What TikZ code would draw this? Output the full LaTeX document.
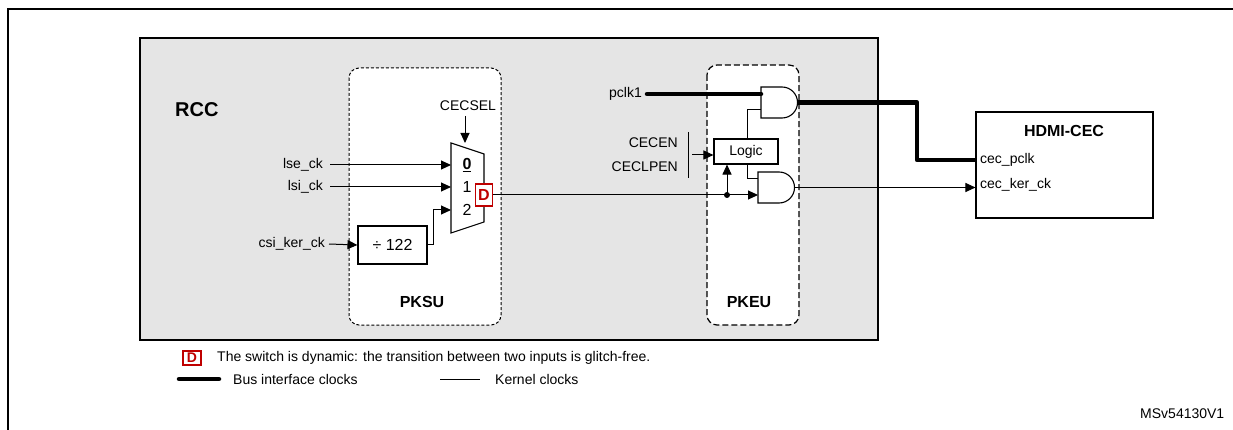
\documentclass[tikz,border=0pt]{standalone}
\usepackage{fontspec}
\setmainfont{Liberation Sans}
\usetikzlibrary{arrows.meta}
\begin{document}
\begin{tikzpicture}[x=1pt,y=-1pt,
  txt/.style={inner sep=0pt,font=\fontsize{14}{16}\selectfont},
  big/.style={inner sep=0pt,font=\fontsize{16}{18}\selectfont},
  bold/.style={txt,font=\fontsize{16}{18}\selectfont\bfseries},
  kern/.style={line width=1pt},
  bus/.style={line width=4.5pt},
  arr/.style={kern,-{Triangle[length=10pt,width=9pt]}},
  blk/.style={draw,line width=1.1pt,fill=white,inner sep=0pt,font=\fontsize{14}{16}\selectfont},
  dbox/.style={draw=red!75!black,line width=1.2pt,fill=white,text=red!75!black,inner sep=0pt,minimum width=17pt,minimum height=22pt,font=\fontsize{16}{18}\selectfont\bfseries},
  gate/.style={line width=1.1pt,fill=white}]
\useasboundingbox (0,0) rectangle (1233,430);
% outer frame
\draw[line width=1.6pt] (8,430) -- (8,9) -- (1233,9);
% RCC box
\draw[line width=1.6pt,fill=gray!20] (140,38) rectangle (878,340);
\node[bold,font=\fontsize{20}{22}\selectfont\bfseries,anchor=west] (rcc) at (175,110) {RCC};
% PKSU / PKEU
\draw[dash pattern=on 3pt off 2pt,rounded corners=10pt,fill=white,line width=1pt] (349,68) rectangle (501,325);
\node[bold] (pksu) at (422,302) {PKSU};
\draw[dash pattern=on 6pt off 3pt,rounded corners=10pt,fill=white,line width=1.2pt] (707,65) rectangle (799,325);
\node[bold] (pkeu) at (749,302) {PKEU};
% mux
\draw[line width=1.1pt,fill=white] (451,143) -- (484,154) -- (484,222) -- (451,233) -- cycle;
\node[big] (m0) at (467,165) {\underline{\textbf{0}}};
\node[big] (m1) at (467,187) {1};
\node[big] (m2) at (467,210) {2};
\coordinate (i0) at (451,165);
\coordinate (i1) at (451,187);
\coordinate (i2) at (451,210);
\node[txt] (cecsel) at (468,106) {CECSEL};
\coordinate (sel) at (465,143);
\draw[arr] (465,116) -- (sel);
\node[dbox] (d) at (484,195) {D};
% inputs
\node[txt,anchor=east] (lse) at (323,165) {lse\_ck};
\node[txt,anchor=east] (lsi) at (323,187) {lsi\_ck};
\node[txt,anchor=east] (csi) at (325,244) {csi\_ker\_ck};
\node[blk,minimum width=69pt,minimum height=38pt,font=\fontsize{16}{18}\selectfont] (div) at (392.5,245) {÷ 122};
\draw[arr] ([xshift=7pt]lse.east) -- (i0);
\draw[arr] ([xshift=7pt]lsi.east) -- (i1);
\draw[arr] ([xshift=4pt]csi.east) -- (div.west);
\draw[arr] (div.east) -- (433,245) -- (433,210) -- (i2);
% PKEU contents
\node[txt,anchor=east] (pclk) at (642,94) {pclk1};
\node[txt,anchor=east] (cecen) at (678,143) {CECEN};
\node[txt,anchor=east] (ceclpen) at (678,167) {CECLPEN};
\draw[kern] (688,132) -- (688,178);
\node[blk,minimum width=64pt,minimum height=25pt] (logic) at (746,151.5) {Logic};
\draw[arr] (692,155) -- (logic.west |- 0,155);
% AND gates
\draw[gate] (761,87) -- (782,87) arc (-90:90:15.5) -- (761,118) -- cycle;
\coordinate (a1o) at (797.5,102.5);
\draw[gate] (758,172) -- (779,172) arc (-90:90:15.5) -- (758,203) -- cycle;
\coordinate (a2o) at (794.5,187.5);
\draw[bus,line cap=round] (647,94) -- (761,94);
\draw[kern] (logic.north -| 747,0) -- (747,110) -- (761,110);
\draw[kern] (logic.south -| 747,0) -- (747,179) -- (758,179);
\coordinate (dot) at (727,195);
\draw[kern] (d.east |- 0,195) -- (dot);
\draw[arr] (dot) -- (758,195);
\draw[arr] (dot) -- (logic.south -| dot);
\fill (dot) circle (3pt);
% HDMI-CEC
\node[blk,minimum width=177pt,minimum height=106pt] (hdmi) at (1064.5,165) {};
\node[bold] (ht) at (1064,131) {HDMI-CEC};
\node[txt,anchor=west] (pc) at (980,160) {cec\_pclk};
\node[txt,anchor=west] (kc) at (980,185) {cec\_ker\_ck};
\draw[bus,line join=round] (a1o) -- (917,102.5) -- (917,160) -- (hdmi.west |- 0,160);
\draw[arr] (a2o) -- (hdmi.west |- 0,187.5);
% legend
\node[dbox,minimum width=18pt,minimum height=14pt,font=\fontsize{14}{15}\selectfont\bfseries] (ld) at (192,358) {D};
\node[txt,anchor=west] (lt) at (217,358) {The switch is dynamic: the transition between two inputs is glitch-free.};
\coordinate (b1) at (179,379);
\coordinate (b2) at (219,379);
\draw[bus,line cap=round] (b1) -- (b2);
\node[txt,anchor=west] (bt) at (233,379) {Bus interface clocks};
\coordinate (k1) at (440,379);
\coordinate (k2) at (480,379);
\draw[kern] (k1) -- (k2);
\node[txt,anchor=west] (kt) at (495,379) {Kernel clocks};
\node[txt,anchor=west] (ms) at (1140,414) {MSv54130V1};
\end{tikzpicture}
\end{document}
